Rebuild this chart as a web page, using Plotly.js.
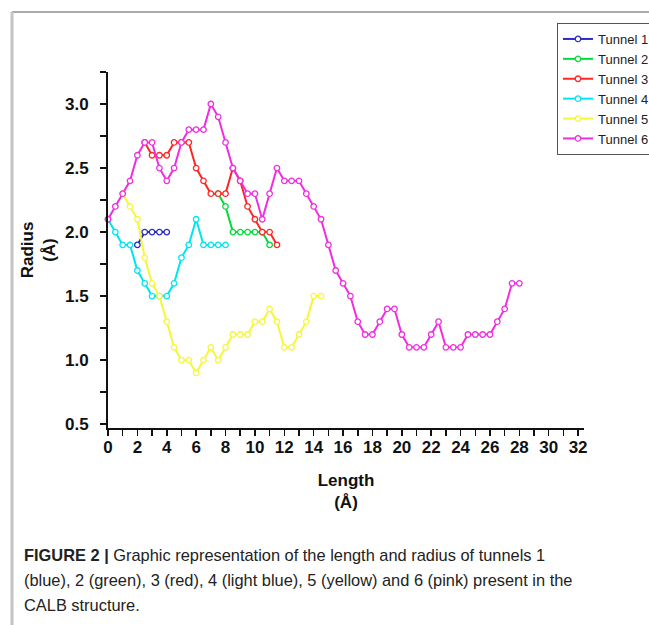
<!DOCTYPE html>
<html>
<head>
<meta charset="utf-8">
<script src="https://cdn.plot.ly/plotly-3.0.1.min.js"></script>
<style>
  html, body { margin: 0; padding: 0; background: #ffffff; }
  #chart { width: 649px; height: 625px; }
</style>
</head>
<body>
<div id="chart"></div>
<script>
// ---- Data (length in Å, radius in Å) ----
const tunnelNames = ["Tunnel 1", "Tunnel 2", "Tunnel 3", "Tunnel 4", "Tunnel 5", "Tunnel 6"];

const t1Length = [2.0, 2.5, 3.0, 3.5, 4.0];
const t1Radius = [1.9, 2.0, 2.0, 2.0, 2.0];

const t2Length = [7.5, 8.0, 8.5, 9.0, 9.5, 10.0, 10.5, 11.0];
const t2Radius = [2.3, 2.2, 2.0, 2.0, 2.0, 2.0, 2.0, 1.9];

const t3Length = [2.5, 3.0, 3.5, 4.0, 4.5, 5.0, 5.5, 6.0, 6.5, 7.0, 7.5, 8.0, 8.5, 9.0, 9.5, 10.0, 10.5, 11.0, 11.5];
const t3Radius = [2.7, 2.6, 2.6, 2.6, 2.7, 2.7, 2.7, 2.5, 2.4, 2.3, 2.3, 2.3, 2.5, 2.4, 2.2, 2.1, 2.0, 2.0, 1.9];

const t4Length = [0.0, 0.5, 1.0, 1.5, 2.0, 2.5, 3.0, 3.5, 4.0, 4.5, 5.0, 5.5, 6.0, 6.5, 7.0, 7.5, 8.0];
const t4Radius = [2.1, 2.0, 1.9, 1.9, 1.7, 1.6, 1.5, 1.5, 1.5, 1.6, 1.8, 1.9, 2.1, 1.9, 1.9, 1.9, 1.9];

const t5Length = [1.0, 1.5, 2.0, 2.5, 3.0, 3.5, 4.0, 4.5, 5.0, 5.5, 6.0, 6.5, 7.0, 7.5, 8.0, 8.5, 9.0, 9.5, 10.0, 10.5, 11.0, 11.5, 12.0, 12.5, 13.0, 13.5, 14.0, 14.5];
const t5Radius = [2.3, 2.2, 2.1, 1.8, 1.6, 1.5, 1.3, 1.1, 1.0, 1.0, 0.9, 1.0, 1.1, 1.0, 1.1, 1.2, 1.2, 1.2, 1.3, 1.3, 1.4, 1.3, 1.1, 1.1, 1.2, 1.3, 1.5, 1.5];

const t6Length = [0.0, 0.5, 1.0, 1.5, 2.0, 2.5, 3.0, 3.5, 4.0, 4.5, 5.0, 5.5, 6.0, 6.5, 7.0, 7.5, 8.0, 8.5, 9.0, 9.5,
                  10.0, 10.5, 11.0, 11.5, 12.0, 12.5, 13.0, 13.5, 14.0, 14.5, 15.0, 15.5, 16.0, 16.5, 17.0, 17.5, 18.0, 18.5, 19.0, 19.5,
                  20.0, 20.5, 21.0, 21.5, 22.0, 22.5, 23.0, 23.5, 24.0, 24.5, 25.0, 25.5, 26.0, 26.5, 27.0, 27.5, 28.0];
const t6Radius = [2.1, 2.2, 2.3, 2.4, 2.6, 2.7, 2.7, 2.5, 2.4, 2.5, 2.7, 2.8, 2.8, 2.8, 3.0, 2.9, 2.7, 2.5, 2.4, 2.3,
                  2.3, 2.1, 2.3, 2.5, 2.4, 2.4, 2.4, 2.3, 2.2, 2.1, 1.9, 1.7, 1.6, 1.5, 1.3, 1.2, 1.2, 1.3, 1.4, 1.4,
                  1.2, 1.1, 1.1, 1.1, 1.2, 1.3, 1.1, 1.1, 1.1, 1.2, 1.2, 1.2, 1.2, 1.3, 1.4, 1.6, 1.6];

const xTickVals = [0, 2, 4, 6, 8, 10, 12, 14, 16, 18, 20, 22, 24, 26, 28, 30, 32];
const yTickVals = [0.5, 1.0, 1.5, 2.0, 2.5, 3.0];
const yTickText = ["0.5", "1.0", "1.5", "2.0", "2.5", "3.0"];

const captionLines = [
  "<b>FIGURE 2 |</b> Graphic representation of the length and radius of tunnels 1",
  "(blue), 2 (green), 3 (red), 4 (light blue), 5 (yellow) and 6 (pink) present in the",
  "CALB structure."
];

// ---- Styles ----
const colors = ["#2b2bc4", "#00dd3a", "#ff2626", "#00e6f0", "#f6f63a", "#f02ee0"];
const xs = [t1Length, t2Length, t3Length, t4Length, t5Length, t6Length];
const ys = [t1Radius, t2Radius, t3Radius, t4Radius, t5Radius, t6Radius];

const traces = tunnelNames.map((name, i) => ({
  type: "scatter",
  mode: "lines+markers",
  name: name,
  x: xs[i],
  y: ys[i],
  line: { color: colors[i], width: 2 },
  marker: { symbol: "circle", size: 5.5, color: "#ffffff", line: { color: colors[i], width: 1.3 } },
  cliponaxis: false
}));

// plot area in pixels: left 108, right 584, top 72, bottom 428
const L = 108, R = 584, T = 72, B = 428;
const px = v => (v - L) / (R - L);
const py = v => (B - v) / (B - T);

const annotations = captionLines.map((txt, i) => ({
  xref: "paper", yref: "paper",
  x: px(22), y: py(555 + i * 25),
  xanchor: "left", yanchor: "middle",
  text: txt, showarrow: false, align: "left",
  font: { family: "Liberation Sans, Arial, sans-serif", size: 16.4, color: "#222222" }
}));

const layout = {
  width: 649, height: 625,
  paper_bgcolor: "#ffffff", plot_bgcolor: "#ffffff",
  margin: { l: L, r: 649 - R, t: T, b: 625 - B, autoexpand: false },
  showlegend: true,
  legend: {
    x: px(557), y: py(23), xanchor: "left", yanchor: "top",
    bgcolor: "#ffffff", bordercolor: "#555555", borderwidth: 1,
    font: { family: "Liberation Sans, Arial, sans-serif", size: 13, color: "#222222" },
    itemwidth: 30, tracegroupgap: 0
  },
  xaxis: {
    range: [0, 32.4],
    tickmode: "array", tickvals: xTickVals, ticktext: xTickVals.map(String),
    ticks: "outside", ticklen: 6, tickwidth: 1.5, tickcolor: "#111111",
    minor: { dtick: 1, tick0: 0, ticks: "outside", ticklen: 6, tickwidth: 1.5, tickcolor: "#111111" },
    showline: true, linecolor: "#111111", linewidth: 2,
    showgrid: false, zeroline: false,
    tickfont: { family: "Liberation Sans, Arial, sans-serif", size: 17, color: "#111111", weight: "bold" },
    ticklabelstandoff: -3,
    title: { text: "<b>Length<br>(Å)</b>", standoff: 18,
             font: { family: "Liberation Sans, Arial, sans-serif", size: 17, color: "#111111" } }
  },
  yaxis: {
    range: [0.47, 3.25],
    tickmode: "array", tickvals: yTickVals, ticktext: yTickText,
    ticks: "outside", ticklen: 6, tickwidth: 1.5, tickcolor: "#111111",
    minor: { dtick: 0.25, tick0: 0.5, ticks: "outside", ticklen: 6, tickwidth: 1.5, tickcolor: "#111111" },
    showline: true, linecolor: "#111111", linewidth: 2,
    showgrid: false, zeroline: false,
    tickfont: { family: "Liberation Sans, Arial, sans-serif", size: 17, color: "#111111", weight: "bold" },
    ticklabelstandoff: 8,
    title: { text: "<b>Radius<br>(Å)</b>", standoff: 5,
             font: { family: "Liberation Sans, Arial, sans-serif", size: 17, color: "#111111" } }
  },
  shapes: [
    { type: "line", xref: "paper", yref: "paper", x0: px(12), x1: px(649), y0: py(12), y1: py(12),
      line: { color: "#555555", width: 1 } },
    { type: "line", xref: "paper", yref: "paper", x0: px(12), x1: px(12), y0: py(12), y1: py(625),
      line: { color: "#c4c4c4", width: 3 } }
  ],
  annotations: annotations
};

Plotly.newPlot("chart", traces, layout, { displayModeBar: false, staticPlot: true });
</script>
</body>
</html>
